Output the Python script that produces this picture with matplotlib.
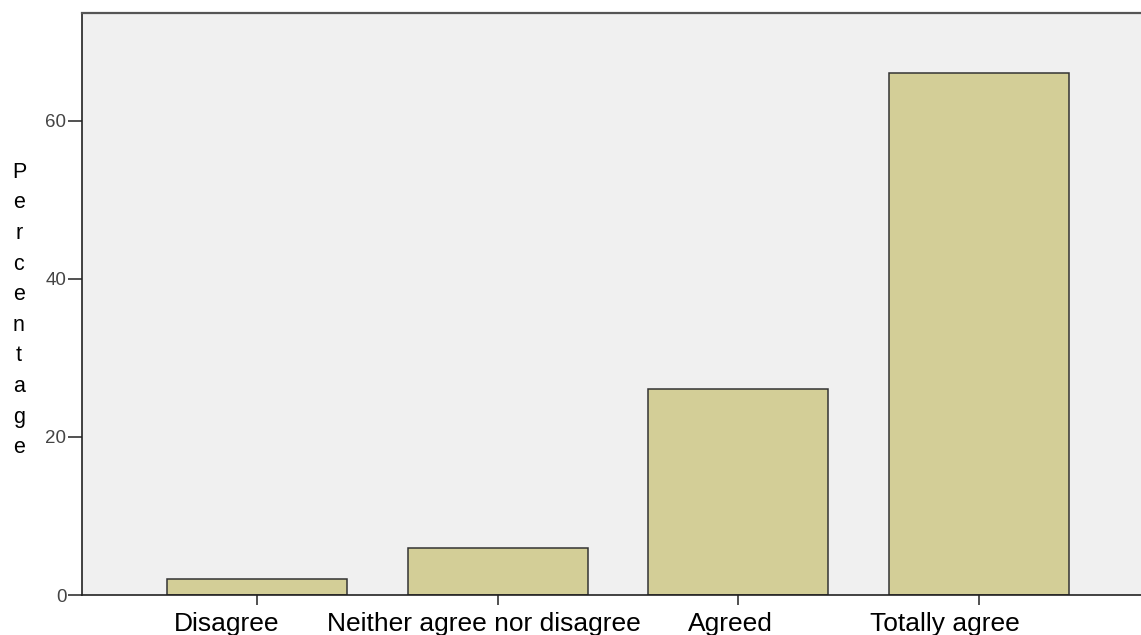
import matplotlib
matplotlib.use('Agg')
import matplotlib.pyplot as plt
import matplotlib.transforms as mtransforms

plt.rcParams['font.family'] = ['Liberation Sans', 'DejaVu Sans']

# 数据
categories = ['Disagree', 'Neither agree nor disagree', 'Agreed', 'Totally agree']
percent = [2, 6, 26, 66]
yticks = [0, 20, 40, 60]

W, H = 1141, 635
fig = plt.figure(figsize=(W / 100, H / 100), dpi=100)

# 坐标区（右侧超出画面被裁掉）
left, right, top, bottom = 82, 1141, 12.7, 595
ax = fig.add_axes([left / W, 1 - bottom / H, (right - left) / W, (bottom - top) / H])
ax.set_facecolor('#F0F0F0')

x = range(len(categories))
ax.bar(x, percent, width=0.747, color='#D3CE97', edgecolor='#333333', linewidth=1.1)

ax.set_xlim(-0.725, 3.671)
ax.set_ylim(0, 73.66)
ax.set_xticks(list(x))
ax.set_xticklabels(categories, fontsize=19, color='black')
ax.set_yticks(yticks)
ax.set_yticklabels([str(v) for v in yticks], fontsize=13.5, color='#444444')
ax.tick_params(axis='x', length=7.2, width=1.2, color='#333333', pad=4.8)
ax.tick_params(axis='y', length=9.8, width=1.2, color='#333333', pad=1.5)

# 原图的类别标签并不完全居中于刻度（像素偏移）
label_shift = [-30, -14, -8, -34]
for lab, dx in zip(ax.get_xticklabels(), label_shift):
    lab.set_transform(lab.get_transform() +
                      mtransforms.ScaledTranslation(dx / 100, 0, fig.dpi_scale_trans))

for s in ['left', 'bottom']:
    ax.spines[s].set_color('#222222')
    ax.spines[s].set_linewidth(1.2)
ax.spines['top'].set_color('#555555')
ax.spines['top'].set_linewidth(1.6)
ax.spines['right'].set_visible(False)

# 竖排的纵轴标题
fig.text(19 / W, 1 - 310 / H, '\n'.join('Percentage'), fontsize=15.5,
         ha='center', va='center', multialignment='center', linespacing=1.6)

fig.savefig('out.png', dpi=100)
